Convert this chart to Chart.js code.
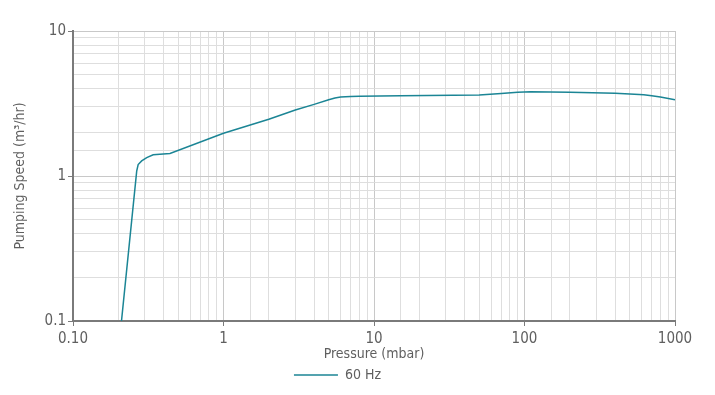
<!DOCTYPE html>
<html>
<head>
<meta charset="utf-8">
<script src="https://cdn.jsdelivr.net/npm/chart.js@4"></script>
<style>
  html, body { margin: 0; padding: 0; background: #fff; }
  #wrap { width: 715px; height: 395px; position: relative; }
</style>
</head>
<body>
<div id="wrap"><canvas id="pumpChart"></canvas></div>
<script>
// Pumping speed curve
const pressure = [0.21, 0.265, 0.271, 0.286, 0.309, 0.341, 0.398, 0.441, 1, 2, 3, 4, 5, 5.5, 6, 7, 8, 15, 50, 70, 90, 110, 200, 400, 500, 620, 700, 800, 1000];
const speed60 = [0.1, 1.08, 1.2, 1.27, 1.34, 1.4, 1.42, 1.43, 1.97, 2.46, 2.85, 3.12, 3.36, 3.45, 3.5, 3.53, 3.55, 3.57, 3.62, 3.7, 3.78, 3.81, 3.78, 3.72, 3.68, 3.64, 3.58, 3.5, 3.36];
const xTickLabels = { 0.1: '0.10', 1: '1', 10: '10', 100: '100', 1000: '1000' };
const yTickLabels = { 0.1: '0.1', 1: '1', 10: '10' };

const FONT = '"Liberation Sans Narrow", "DejaVu Sans Condensed", sans-serif';
const TEXT = '#5f5f5f';
const LINE = '#1b8595';

function isMajor(v) {
  const l = Math.log10(v);
  return Math.abs(l - Math.round(l)) < 1e-6;
}

const points = pressure.map((p, i) => ({ x: p, y: speed60[i] }));

new Chart(document.getElementById('pumpChart'), {
  type: 'line',
  data: {
    datasets: [{
      label: '60 Hz',
      data: points,
      borderColor: LINE,
      backgroundColor: LINE,
      borderWidth: 1.5,
      pointRadius: 0,
      tension: 0,
    }],
  },
  options: {
    responsive: true,
    maintainAspectRatio: false,
    animation: false,
    layout: { padding: { top: 31, right: 40, left: 0, bottom: 3 } },
    plugins: {
      tooltip: { enabled: false },
      legend: {
        position: 'bottom',
        labels: {
          usePointStyle: true,
          pointStyle: 'line',
          pointStyleWidth: 44,
          color: TEXT,
          font: { family: FONT, size: 14 },
          padding: 5,
        },
      },
    },
    scales: {
      x: {
        type: 'logarithmic',
        min: 0.1,
        max: 1000,
        afterFit: (s) => { s.height = 42; },
        border: { color: '#7a7a7a', width: 2 },
        grid: {
          color: (c) => (c.tick && isMajor(c.tick.value) ? '#c8c8c8' : '#dedede'),
          tickColor: (c) => (c.tick && isMajor(c.tick.value) ? '#7a7a7a' : 'rgba(0,0,0,0)'),
          tickLength: 5,
        },
        ticks: {
          autoSkip: false,
          maxRotation: 0,
          color: TEXT,
          font: { family: FONT, size: 15 },
          padding: 4,
          callback: (v) => xTickLabels[v] || '',
        },
        title: {
          display: true,
          text: 'Pressure (mbar)',
          color: TEXT,
          font: { family: FONT, size: 14 },
          padding: { top: 0, bottom: 0 },
        },
      },
      y: {
        type: 'logarithmic',
        min: 0.1,
        max: 10,
        afterFit: (s) => { s.width = 73; },
        border: { color: '#7a7a7a', width: 2 },
        grid: {
          color: (c) => (c.tick && isMajor(c.tick.value) ? '#c8c8c8' : '#dedede'),
          tickColor: (c) => (c.tick && isMajor(c.tick.value) ? '#7a7a7a' : 'rgba(0,0,0,0)'),
          tickLength: 5,
        },
        ticks: {
          autoSkip: false,
          color: TEXT,
          font: { family: FONT, size: 15 },
          padding: 2,
          callback: (v) => yTickLabels[v] || '',
        },
        title: {
          display: true,
          text: 'Pumping Speed (m³/hr)',
          color: TEXT,
          font: { family: FONT, size: 14 },
          padding: { top: 12, bottom: 0 },
        },
      },
    },
  },
});
</script>
</body>
</html>
